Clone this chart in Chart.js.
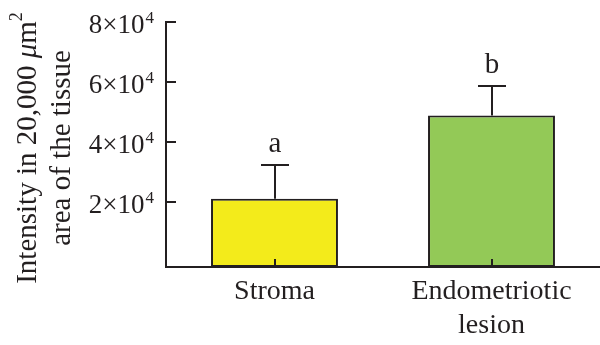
<!DOCTYPE html>
<html>
<head>
<meta charset="utf-8">
<script src="https://cdn.jsdelivr.net/npm/chart.js@4"></script>
<style>
  html, body { margin: 0; padding: 0; background: #fff; }
  canvas { display: block; }
</style>
</head>
<body>
<canvas id="myChart" width="600" height="345"></canvas>
<script>
const groups = ['Stroma', ['Endometriotic', 'lesion']];
const means = [21200, 48900];
const errors = [11100, 9900];
const letters = ['a', 'b'];
const yTicks = [20000, 40000, 60000, 80000];
const barColors = ['#f3eb1b', '#93c957'];

const ink = '#231f20';
const serif = '"Liberation Serif", "Times New Roman", serif';

// the x axis sits a little below zero, bars start from it
const yMin = -1500;
const yMax = 80000;

// error bars, letters, inward ticks, y labels and the axis title
const extras = {
  id: 'extras',
  afterDatasetsDraw(chart) {
    const {ctx, chartArea, scales: {x, y}} = chart;
    ctx.save();
    ctx.strokeStyle = ink;
    ctx.fillStyle = ink;
    ctx.lineWidth = 2;

    // ticks pointing into the plot
    yTicks.forEach(v => {
      const py = Math.round(y.getPixelForValue(v));
      ctx.beginPath();
      ctx.moveTo(chartArea.left, py);
      ctx.lineTo(chartArea.left + 10, py);
      ctx.stroke();
    });
    means.forEach((m, i) => {
      const px = Math.round(x.getPixelForValue(i));
      ctx.beginPath();
      ctx.moveTo(px, chartArea.bottom);
      ctx.lineTo(px, chartArea.bottom - 8);
      ctx.stroke();
    });

    // upper error bars and group letters
    means.forEach((m, i) => {
      const px = Math.round(x.getPixelForValue(i));
      const top = Math.round(y.getPixelForValue(m + errors[i]));
      ctx.beginPath();
      ctx.moveTo(px, y.getPixelForValue(m));
      ctx.lineTo(px, top);
      ctx.moveTo(px - 14, top);
      ctx.lineTo(px + 14, top);
      ctx.stroke();
      ctx.font = '29px ' + serif;
      ctx.textAlign = 'center';
      ctx.textBaseline = 'alphabetic';
      ctx.fillText(letters[i], px, top - 13);
    });

    // tick labels as n×10^4
    ctx.textBaseline = 'alphabetic';
    ctx.textAlign = 'left';
    yTicks.forEach(v => {
      const py = y.getPixelForValue(v);
      const main = (v / 10000) + '×10';
      ctx.font = '17px ' + serif;
      const supW = ctx.measureText('4').width;
      ctx.font = '27px ' + serif;
      const mainW = ctx.measureText(main).width;
      const right = chartArea.left - 12;
      ctx.fillText(main, right - supW - 1 - mainW, py + 11);
      ctx.font = '17px ' + serif;
      ctx.fillText('4', right - supW, py + 1);
    });

    // rotated axis title
    ctx.translate(28, 148);
    ctx.rotate(-Math.PI / 2);
    ctx.textBaseline = 'middle';
    const parts = [
      {t: 'Intensity in 20,000 ', f: '29px ' + serif, dy: 0},
      {t: 'μ', f: 'italic 29px ' + serif, dy: 0},
      {t: 'm', f: '29px ' + serif, dy: 0},
      {t: '2', f: '18px ' + serif, dy: -11}
    ];
    let total = 0;
    parts.forEach(p => { ctx.font = p.f; p.w = ctx.measureText(p.t).width; total += p.w; });
    let cx = -total / 2;
    parts.forEach(p => {
      ctx.font = p.f;
      ctx.fillText(p.t, cx, p.dy);
      cx += p.w;
    });
    ctx.font = '29px ' + serif;
    ctx.textAlign = 'center';
    ctx.fillText('area of the tissue', 0, 34);
    ctx.restore();
  }
};

const config = {
  type: 'bar',
  data: {
    labels: groups,
    datasets: [{
      data: means,
      base: yMin,
      backgroundColor: barColors,
      borderColor: ink,
      borderWidth: 2,
      borderSkipped: false,
      barPercentage: 0.585,
      categoryPercentage: 1
    }]
  },
  options: {
    responsive: false,
    animation: false,
    layout: { padding: { top: 22, right: 0, bottom: 0, left: 0 } },
    plugins: { legend: { display: false }, tooltip: { enabled: false } },
    scales: {
      x: {
        offset: true,
        grid: { display: false },
        border: { display: true, color: ink, width: 2 },
        ticks: {
          color: ink,
          font: { family: serif, size: 28, lineHeight: 1.21 },
          padding: 0,
          maxRotation: 0,
          autoSkip: false
        },
        afterFit(scale) { scale.height = 78; }
      },
      y: {
        min: yMin,
        max: yMax,
        grid: { display: false },
        border: { display: true, color: ink, width: 2 },
        ticks: { display: false },
        afterFit(scale) { scale.width = 166; }
      }
    }
  },
  plugins: [extras]
};

var myChart = new Chart(document.getElementById('myChart'), config);
</script>
</body>
</html>
